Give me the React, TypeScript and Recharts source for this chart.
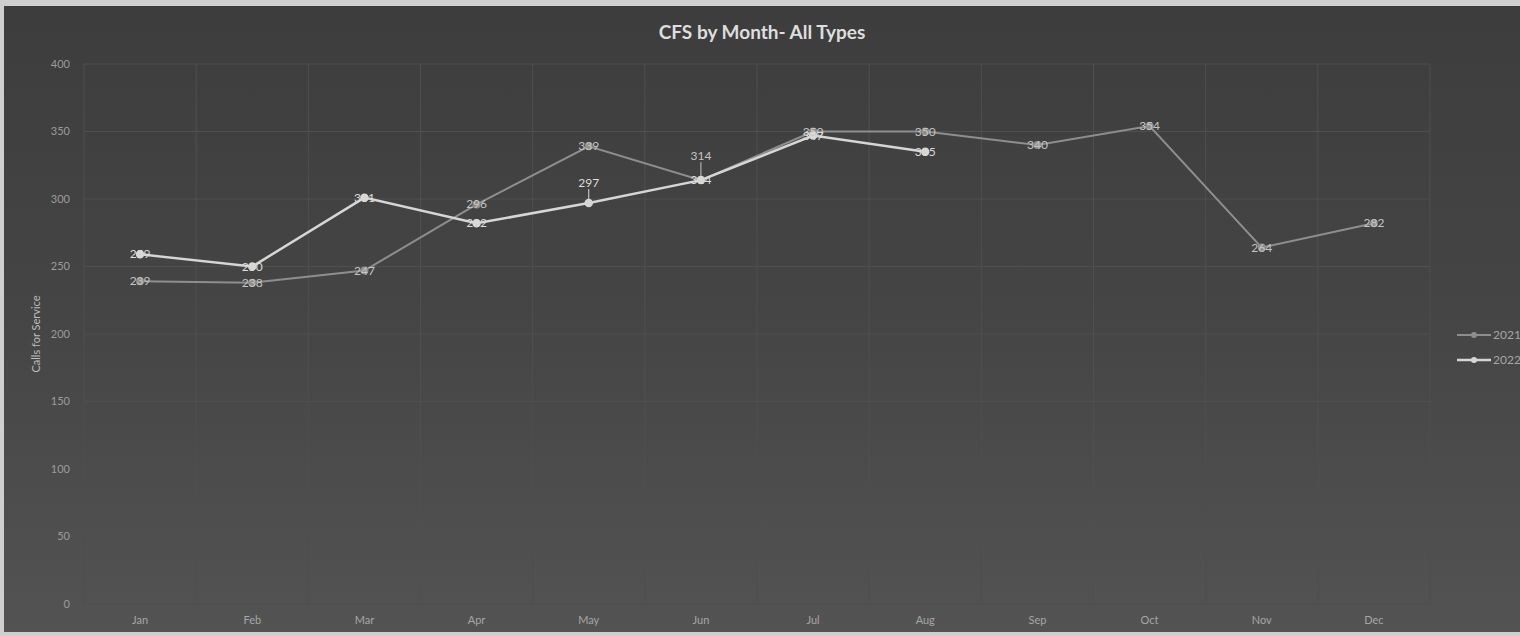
import { CartesianGrid, LabelList, Legend, Line, LineChart, XAxis, YAxis } from "recharts";

const MONTHS = ["Jan", "Feb", "Mar", "Apr", "May", "Jun", "Jul", "Aug", "Sep", "Oct", "Nov", "Dec"];
const CALLS_2021 = [239, 238, 247, 296, 339, 314, 350, 350, 340, 354, 264, 282];
const CALLS_2022: (number | null)[] = [259, 250, 301, 282, 297, 314, 347, 335, null, null, null, null];
const Y_TICKS = [0, 50, 100, 150, 200, 250, 300, 350, 400];

// a couple of labels were dragged up in the original, with a leader line
const LABEL_NUDGE: Record<string, number> = {
  "2021-5": -24,
  "2022-4": -20,
};

const FONT = "Lato, 'Open Sans', sans-serif";
const LINE_2021 = "#8e8e8e";
const LINE_2022 = "#d6d6d6";
const TEXT = "#a6a6a6";

const rows = MONTHS.map((m, i) => ({ month: m, y2021: CALLS_2021[i], y2022: CALLS_2022[i] }));

function makeLabel(series: string, color: string) {
  return (props: any) => {
    const { x, y, value, index } = props;
    if (value == null) return null;
    const nudge = LABEL_NUDGE[`${series}-${index}`] ?? 0;
    return (
      <g>
        {nudge !== 0 && (
          <line x1={x} y1={y + nudge + 6} x2={x} y2={y - 3} stroke={color} strokeWidth={1} />
        )}
        <text
          x={x}
          y={y + nudge}
          dy={4}
          textAnchor="middle"
          fontSize={12}
          fontFamily={FONT}
          fill={color}
        >
          {value}
        </text>
      </g>
    );
  };
}

function LegendBox() {
  const item = (label: string, color: string, w: number) => (
    <div style={{ display: "flex", alignItems: "center", height: 25, whiteSpace: "nowrap" }}>
      <svg width={36} height={10}>
        <line x1={0} y1={5} x2={34} y2={5} stroke={color} strokeWidth={w} />
        <circle cx={17} cy={5} r={3} fill={color} />
      </svg>
      <span style={{ fontSize: 12, color: TEXT, fontFamily: FONT }}>{label}</span>
    </div>
  );
  return (
    <div>
      {item("2021", LINE_2021, 2)}
      {item("2022", LINE_2022, 2.5)}
    </div>
  );
}

export default function App() {
  return (
    <div
      style={{
        position: "fixed",
        left: 0,
        top: 0,
        width: 1520,
        height: 636,
        background: "#cfcfcf",
        overflow: "hidden",
      }}
    >
      <div
        style={{
          position: "absolute",
          left: 4,
          top: 6,
          width: 1516,
          height: 626,
          background: "linear-gradient(180deg, #3d3d3d 0%, #454545 50%, #535353 100%)",
          overflow: "hidden",
        }}
      >
        <div
          style={{
            position: "absolute",
            left: 0,
            top: 14,
            width: 1516,
            textAlign: "center",
            fontFamily: FONT,
            fontWeight: 700,
            fontSize: 19,
            color: "#dedede",
          }}
        >
          CFS by Month- All Types
        </div>
        <LineChart
          width={1516}
          height={626}
          data={rows}
          margin={{ top: 58, right: 90, bottom: 0, left: 0 }}
        >
          <CartesianGrid
            stroke="#4f4f4f"
            strokeWidth={1}
            verticalCoordinatesGenerator={({ offset }: any) =>
              MONTHS.map((_, i) => offset.left + (i * offset.width) / MONTHS.length).concat(
                offset.left + offset.width
              )
            }
          />
          <XAxis
            dataKey="month"
            scale="band"
            height={28}
            axisLine={false}
            tickLine={false}
            tickMargin={6}
            tick={{ fontSize: 11, fill: TEXT, fontFamily: FONT }}
            interval={0}
          />
          <YAxis
            domain={[0, 400]}
            ticks={Y_TICKS}
            width={80}
            axisLine={false}
            tickLine={false}
            tickMargin={8}
            tick={{ fontSize: 11, fill: "#9c9c9c", fontFamily: FONT }}
            label={(p: any) => {
              const vb = p.viewBox;
              const cx = 31;
              const cy = vb.y + vb.height / 2;
              return (
                <text
                  x={cx}
                  y={cy}
                  transform={`rotate(-90, ${cx}, ${cy})`}
                  textAnchor="middle"
                  dominantBaseline="central"
                  fontSize={11}
                  fontFamily={FONT}
                  fill="#bdbdbd"
                >
                  Calls for Service
                </text>
              );
            }}
          />
          <Legend
            layout="horizontal"
            verticalAlign="middle"
            align="center"
            content={() => <LegendBox />}
            wrapperStyle={{ left: 1453, top: 316, width: 80 }}
          />
          <Line
            dataKey="y2021"
            name="2021"
            stroke={LINE_2021}
            strokeWidth={2}
            dot={{ r: 3, fill: LINE_2021, stroke: LINE_2021 }}
            isAnimationActive={false}
          >
            <LabelList dataKey="y2021" content={makeLabel("2021", "#c4c4c4")} />
          </Line>
          <Line
            dataKey="y2022"
            name="2022"
            stroke={LINE_2022}
            strokeWidth={2.5}
            dot={{ r: 3, fill: LINE_2022, stroke: LINE_2022 }}
            isAnimationActive={false}
          >
            <LabelList dataKey="y2022" content={makeLabel("2022", "#dcdcdc")} />
          </Line>
        </LineChart>
      </div>
    </div>
  );
}
